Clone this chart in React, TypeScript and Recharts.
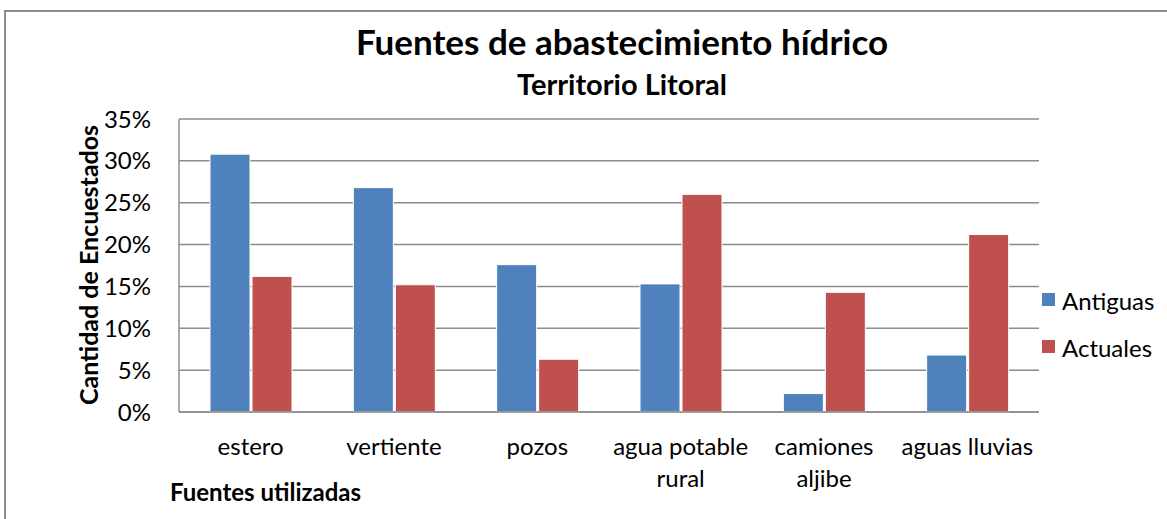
import React from "react";
import { BarChart, Bar, XAxis, YAxis, CartesianGrid } from "recharts";

const categories = ["estero", "vertiente", "pozos", "agua potable\nrural", "camiones\naljibe", "aguas lluvias"];
const antiguas = [30.8, 26.8, 17.6, 15.3, 2.2, 6.8];
const actuales = [16.2, 15.2, 6.3, 26.0, 14.3, 21.2];
const yTicks = [0, 5, 10, 15, 20, 25, 30, 35];
const seriesNames = ["Antiguas", "Actuales"];
const seriesColors = ["#4F81BD", "#C0504D"];

const data = categories.map((c, i) => ({ name: c, Antiguas: antiguas[i], Actuales: actuales[i] }));

const FONT = "Lato, 'Open Sans', sans-serif";

const XTick = (props: any) => {
  const { x, y, payload } = props;
  const lines = String(payload.value).split("\n");
  return (
    <g>
      {lines.map((l: string, i: number) => (
        <text key={i} x={x} y={y + 35 + i * 32} textAnchor="middle" fontSize={24} fill="#000" fontFamily={FONT}>
          {l}
        </text>
      ))}
    </g>
  );
};

export default function App() {
  return (
    <div style={{ position: "absolute", left: 0, top: 0, width: 1167, height: 519, background: "#fff", fontFamily: FONT }}>
      <div style={{ position: "absolute", left: 4, top: 10, width: 1163, height: 509, borderTop: "2px solid #8c8c8c", borderLeft: "2px solid #8c8c8c" }} />
      <BarChart
        width={1167}
        height={519}
        data={data}
        margin={{ top: 119, right: 128, bottom: 77, left: 119 }}
        barSize={40}
        barGap={2}
        style={{ position: "absolute", left: 0, top: 0 }}
      >
        <text x={622} y={55} textAnchor="middle" fontSize={35} fontWeight="bold" fontFamily={FONT} fill="#000">
          Fuentes de abastecimiento hídrico
        </text>
        <text x={622} y={95} textAnchor="middle" fontSize={29} fontWeight="bold" fontFamily={FONT} fill="#000">
          Territorio Litoral
        </text>
        <text x={170} y={501} textAnchor="start" fontSize={24} fontWeight="bold" fontFamily={FONT} fill="#000">
          Fuentes utilizadas
        </text>
        <text x={88} y={265} textAnchor="middle" dominantBaseline="central" fontSize={25} fontWeight="bold" fontFamily={FONT} fill="#000" transform="rotate(-90 88 265)">
          Cantidad de Encuestados
        </text>
        <CartesianGrid vertical={false} stroke="#8c8c8c" strokeWidth={1.5} />
        <XAxis dataKey="name" height={30} tick={<XTick />} tickLine={false} axisLine={{ stroke: "#8c8c8c", strokeWidth: 1.5 }} interval={0} />
        <YAxis
          domain={[0, 35]}
          ticks={yTicks}
          tickFormatter={(v: number) => `${v}%`}
          tickLine={false}
          axisLine={{ stroke: "#8c8c8c", strokeWidth: 1.5 }}
          tick={{ fontSize: 24, fill: "#000", fontFamily: FONT }}
          tickMargin={22}
          width={60}
        />
        {seriesNames.map((n, i) => (
          <g key={n}>
            <rect x={1042} y={293 + i * 47} width={13} height={13} fill={seriesColors[i]} />
            <text x={1062} y={300 + i * 47} dominantBaseline="central" fontSize={24} fontFamily={FONT} fill="#000">
              {n}
            </text>
          </g>
        ))}
        <Bar dataKey="Antiguas" fill={seriesColors[0]} stroke="#ffffff" strokeWidth={1} isAnimationActive={false} />
        <Bar dataKey="Actuales" fill={seriesColors[1]} stroke="#ffffff" strokeWidth={1} isAnimationActive={false} />
      </BarChart>
    </div>
  );
}
